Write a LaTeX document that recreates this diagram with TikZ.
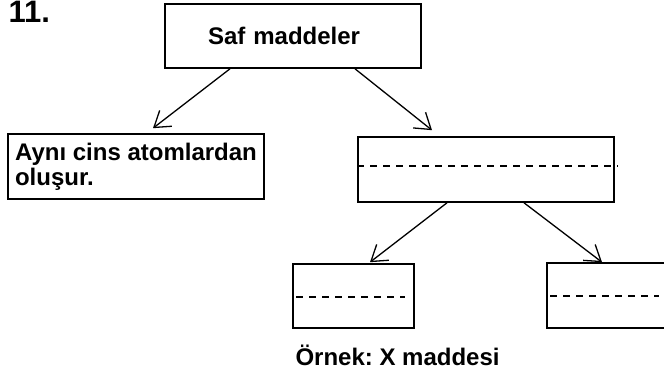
\documentclass[tikz,border=0pt]{standalone}
\usepackage{fontspec}
\setmainfont{Liberation Sans}
\usetikzlibrary{arrows.meta}
\frenchspacing

\begin{document}
\begin{tikzpicture}[x=1pt, y=-1pt,
  kutu/.style={draw, line width=1.6pt, rectangle, minimum height=64pt, inner sep=0pt},
  ok/.style={-{Straight Barb[length=15pt, width=20pt, line width=1.3pt]}, line width=1.3pt},
  kesik/.style={dash pattern=on 7pt off 6pt, line width=1.4pt},
  font=\fontsize{24}{25}\selectfont\bfseries]
\useasboundingbox (0,0) rectangle (664,374);
\node[anchor=base west, font=\fontsize{31}{33}\selectfont\bfseries] (no) at (5,23) {11.};
\node[kutu, minimum width=256pt, inner xsep=43pt, text width=170pt, align=left] (saf) at (293,36) {Saf maddeler};
\node[kutu, minimum width=256pt, minimum height=65pt, inner xsep=6pt, align=left] (ayni) at (136,166.5) {Aynı cins atomlardan\\oluşur.};
\node[kutu, minimum width=256pt, minimum height=65pt] (orta) at (486,169.5) {};
\node[kutu, minimum width=121pt] (sol) at (353.5,296) {};
\node[kutu, minimum width=121pt, minimum height=65pt] (sag) at (607.5,295.5) {};
\node[anchor=base west] (ornek) at (292,365) {Örnek: X maddesi};
\draw[ok] ([xshift=-63pt]saf.south) -- ([xshift=17pt, yshift=5pt]ayni.north);
\draw[ok] ([xshift=62pt]saf.south) -- ([xshift=-54pt, yshift=6pt]orta.north);
\draw[ok] ([xshift=-39pt]orta.south) -- ([xshift=16.5pt, yshift=1pt]sol.north);
\draw[ok] ([xshift=38pt]orta.south) -- ([xshift=-5.5pt]sag.north);
\draw[kesik] ([yshift=3.5pt]orta.west) -- ([xshift=3pt, yshift=3.5pt]orta.east);
\draw[kesik] ([xshift=4pt, yshift=-1pt]sol.west) -- ([xshift=-10pt, yshift=-1pt]sol.east);
\draw[kesik] ([xshift=4pt, yshift=-0.5pt]sag.west) -- ([xshift=-10pt, yshift=-0.5pt]sag.east);
\end{tikzpicture}
\end{document}
